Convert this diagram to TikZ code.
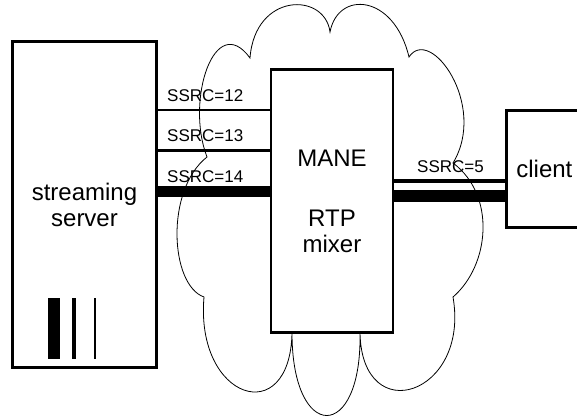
\documentclass[tikz,border=0pt]{standalone}
\usepackage{fontspec}
\setmainfont{Liberation Sans}

\begin{document}
\begin{tikzpicture}[
  x=1pt,
  y=-1pt,
  box/.style={draw, line width=2.7pt, fill=white, inner sep=0pt},
  big/.style={font=\fontsize{24}{26}\selectfont},
  ssrc/.style={font=\fontsize{17}{20}\selectfont, anchor=base west, inner sep=0pt},
  thinline/.style={line width=1.3pt},
  midline/.style={line width=3.5pt},
  thickline/.style={line width=11.5pt},
  cloudline/.style={line width=0.8pt},
]

% page size of the reference
\useasboundingbox (0,0) rectangle (577,417);
\clip (0,0) rectangle (577,417);

% network cloud (drawn first, boxes cover it)
\draw[cloudline] (250,58)
  .. controls (255,-8) and (325,-8) .. (330,32)
  .. controls (338,-10) and (394,-6) .. (409,57)
  .. controls (430,25) and (488,105) .. (453,163)
  .. controls (496,195) and (490,265) .. (453,297)
  .. controls (470,395) and (362,430) .. (360,333)
  .. controls (362,443) and (292,443) .. (292,333)
  .. controls (290,430) and (195,400) .. (204,297)
  .. controls (170,285) and (165,190) .. (207,157)
  .. controls (185,100) and (215,10) .. (250,58)
  -- cycle;

% boxes
\node[box, big, align=center, minimum width=144pt, minimum height=326pt]
  (server) at (84.5,204.5) {streaming\\server};
\node[box, big, align=center, minimum width=122pt, minimum height=263pt]
  (mane) at (332,201) {MANE\\[34pt]RTP\\mixer};
\node[box, big, anchor=west, align=left, text width=80pt, inner xsep=10pt,
      minimum height=117pt]
  (client) at (505,169) {client};

% stream levels inside the server
\foreach \bx/\bw in {54/12, 74/4, 95/1.8}
  \draw[line width=\bw pt] (\bx,298) -- (\bx,359);

% streams server -> MANE
\coordinate (s12) at (0,110);
\coordinate (s13) at (0,150.5);
\coordinate (s14) at (0,191.5);
\draw[thinline] (server.east |- s12) -- (mane.west |- s12);
\draw[midline] (server.east |- s13) -- (mane.west |- s13);
\draw[thickline] (server.east |- s14) -- (mane.west |- s14);
\node[ssrc] (lab12) at (167,102) {SSRC=12};
\node[ssrc] (lab13) at (167,141.5) {SSRC=13};
\node[ssrc] (lab14) at (167,182) {SSRC=14};

% mixed stream MANE -> client
\coordinate (s5a) at (0,181);
\coordinate (s5b) at (0,195.5);
\draw[midline] (mane.east |- s5a) -- (client.west |- s5a);
\draw[line width=12pt] (mane.east |- s5b) -- (client.west |- s5b);
\node[ssrc] (lab5) at (417,172) {SSRC=5};

\end{tikzpicture}
\end{document}
